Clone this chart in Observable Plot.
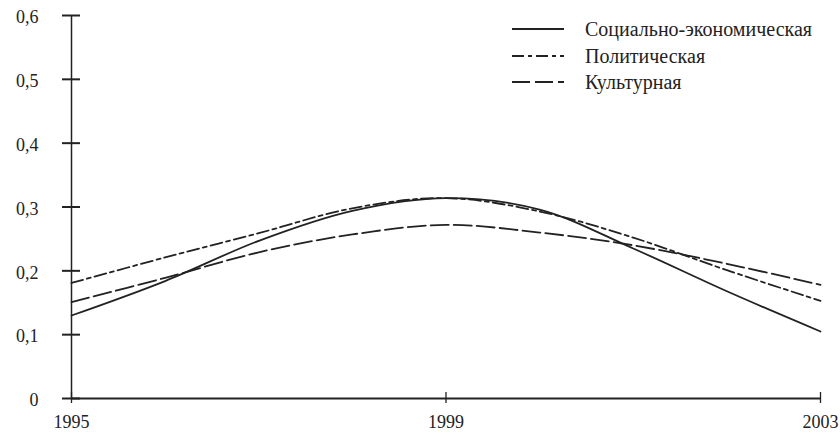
<!DOCTYPE html>
<html>
<head>
<meta charset="utf-8">
<script src="https://cdn.jsdelivr.net/npm/d3@7"></script>
<script src="https://cdn.jsdelivr.net/npm/@observablehq/plot@0.6"></script>
<style>
  html, body { margin: 0; padding: 0; background: #fff; }
</style>
</head>
<body>
<div id="wrap" style="position:relative;width:840px;height:434px;color:#222;font-family:'Liberation Serif'"><div id="chart"></div><div id="legend" style="position:absolute;left:0;top:0;width:0;height:0;"></div></div>
<script>
// ---- data ----
const years = [1995, 1996, 1997, 1998, 1999, 2000, 2001, 2002, 2003];
const socioEconomic = [0.130, 0.184, 0.247, 0.294, 0.314, 0.296, 0.235, 0.168, 0.105];
const political     = [0.181, 0.221, 0.259, 0.298, 0.314, 0.293, 0.252, 0.201, 0.153];
const cultural      = [0.151, 0.189, 0.229, 0.257, 0.272, 0.260, 0.240, 0.211, 0.178];
const seriesNames = ["Социально-экономическая", "Политическая", "Культурная"];
const yTicks = [0, 0.1, 0.2, 0.3, 0.4, 0.5, 0.6];
const xTicks = [1995, 1999, 2003];

// ---- build table ----
const seriesValues = [socioEconomic, political, cultural];
const rows = seriesNames.flatMap((name, s) =>
  years.map((year, i) => ({ series: name, year, value: seriesValues[s][i] }))
);
const dashStyles = [null, "12,4,4,4", "18,5"];
const ink = "#222";
const fam = "Liberation Serif";

const fmtY = d => d === 0 ? "0" : d3.format(".1f")(d).replace(".", ",");

const chart = Plot.plot({
  width: 840,
  height: 434,
  marginLeft: 71,
  marginRight: 20,
  marginTop: 15,
  marginBottom: 36,
  x: { domain: [years[0], years[years.length - 1]], axis: null },
  y: { domain: [yTicks[0], yTicks[yTicks.length - 1]], axis: null },
  marks: [
    // series
    ...seriesNames.map((name, s) =>
      Plot.line(rows.filter(r => r.series === name), {
        x: "year", y: "value", curve: "catmull-rom",
        stroke: ink, strokeWidth: 1.8, strokeDasharray: dashStyles[s]
      })
    ),
    // axis lines
    Plot.ruleX([years[0]], { y1: yTicks[0], y2: yTicks[yTicks.length - 1], stroke: ink, strokeWidth: 1.5 }),
    Plot.ruleY([yTicks[0]], { stroke: ink, strokeWidth: 2 }),
    // crossing tick marks
    Plot.ruleY(yTicks, { x1: years[0], x2: years[0], insetLeft: -9, insetRight: -9, stroke: ink, strokeWidth: 2 }),
    Plot.ruleX(xTicks, { y1: yTicks[0], y2: yTicks[0], insetTop: -6, insetBottom: -5, stroke: ink, strokeWidth: 1.3 }),
    // tick labels
    Plot.text(yTicks, { x: years[0], y: d => d, text: fmtY, textAnchor: "end", dx: -33, dy: 2, fill: ink, fontSize: 18, fontFamily: fam }),
    Plot.text(xTicks, { x: d => d, y: yTicks[0], text: d => String(d), lineAnchor: "top", dy: 17, fill: ink, fontSize: 18, fontFamily: fam })
  ]
});
document.getElementById("chart").appendChild(chart);

// ---- legend (overlay, inside plot area) ----
const legend = document.getElementById("legend");
const rowCenters = [29, 56, 82];
seriesNames.forEach((name, s) => {
  const item = document.createElement("div");
  item.setAttribute("style", `position:absolute;left:512px;top:${rowCenters[s] - 12}px;height:24px;display:flex;align-items:center;white-space:nowrap;font-size:20px;font-family:'Liberation Serif'`);
  const dash = dashStyles[s] ? ` stroke-dasharray="${dashStyles[s]}"` : "";
  item.innerHTML = `<svg width="52" height="6" style="display:block;margin-right:21px"><line x1="0" y1="3" x2="52" y2="3" stroke="${ink}" stroke-width="1.8"${dash}/></svg><span>${name}</span>`;
  legend.appendChild(item);
});
</script>
</body>
</html>
